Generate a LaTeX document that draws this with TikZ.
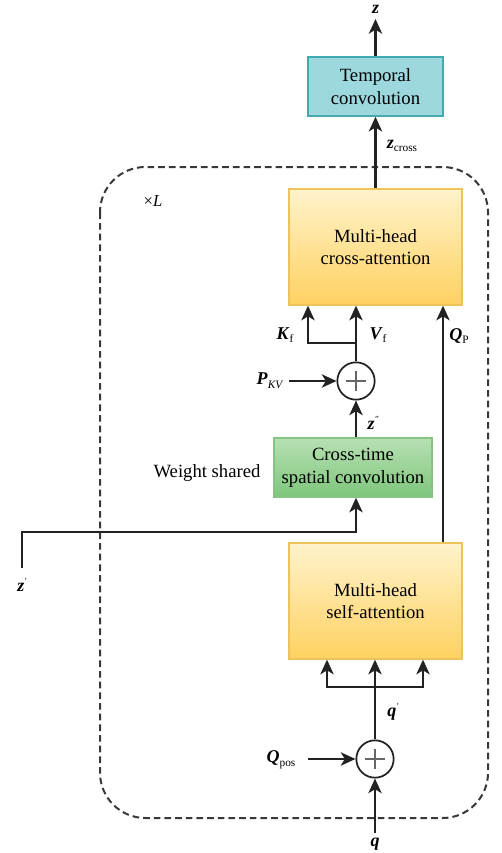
\documentclass[tikz,border=0pt]{standalone}
\usepackage{fontspec}
\setmainfont{Liberation Serif}
\usetikzlibrary{arrows.meta,calc}
\newcommand{\bi}[1]{\textbf{\textit{#1}}}
\newcommand{\sbs}[1]{\raisebox{-0.45ex}{\fontsize{8.5}{8.5}\selectfont #1}}
\definecolor{tealfill}{HTML}{9DD8DE}
\definecolor{tealdraw}{HTML}{45A9B1}
\definecolor{ytop}{HTML}{FFF3CC}
\definecolor{ybot}{HTML}{FFD160}
\definecolor{ydraw}{HTML}{EFC35C}
\definecolor{gtop}{HTML}{B8E0B3}
\definecolor{gbot}{HTML}{7EC67C}
\definecolor{gdraw}{HTML}{86C484}
\definecolor{lin}{HTML}{222222}
\begin{document}
\begin{tikzpicture}[x=0.75pt,y=-0.75pt,
  boxtext/.style={align=center,font=\fontsize{14}{17}\selectfont,inner sep=0pt},
  tbox/.style={boxtext,draw=tealdraw,line width=1.2pt,fill=tealfill,minimum width=101.25pt,minimum height=44.25pt},
  ybox/.style={boxtext,draw=ydraw,line width=1pt,top color=ytop,bottom color=ybot,minimum width=129.75pt,minimum height=87pt},
  gbox/.style={boxtext,draw=gdraw,line width=1pt,top color=gtop,bottom color=gbot,minimum width=118.5pt,minimum height=44.25pt},
  plusc/.style={circle,draw=lin,line width=1.3pt,fill=white,minimum size=28pt,inner sep=0pt},
  arr/.style={draw=lin,line width=1.6pt,-{Stealth[length=11pt,width=10pt,inset=3pt]}},
  lbl/.style={font=\fontsize{13.5}{15}\selectfont,inner sep=0pt},
  plain/.style={font=\fontsize{14}{17}\selectfont,inner sep=0pt}]
\useasboundingbox (0,0) rectangle (501,853);
% repeat frame
\draw[draw=lin!90,line width=1.5pt,dash pattern=on 5pt off 3pt,rounded corners=34pt] (100,167) rectangle (488,818);
\node[font=\fontsize{12.5}{14}\selectfont,inner sep=0pt] (xl) at (153,201) {\char"00D7\textit{L}};
% boxes
\node[tbox] (temp) at (375.5,86.5) {Temporal\\convolution};
\node[ybox] (cross) at (375.5,247) {Multi-head\\cross-attention};
\node[gbox] (green) at (353,467.5) {Cross-time\\spatial convolution};
\node[ybox] (self) at (375.5,601) {Multi-head\\self-attention};
\node[plusc] (p1) at (356,381) {};
\node[plusc] (p2) at (375,759) {};
\foreach \c in {p1,p2}{
  \draw[gray!80!black,line width=0.8pt] ($(\c)+(-10,0)$) -- ($(\c)+(10,0)$);
  \draw[gray!80!black,line width=0.8pt] ($(\c)+(0,-10)$) -- ($(\c)+(0,10)$);
}
% coordinates
\coordinate (zout) at (375.5,19);
\coordinate (kj) at (356,343);
\coordinate (kx) at (308,343);
\coordinate (pkvs) at (289,381);
\coordinate (zc) at (356,532);
\coordinate (zp) at (22,568);
\coordinate (qj) at (375,687);
\coordinate (qpl) at (327,687);
\coordinate (qpr) at (423,687);
\coordinate (qposs) at (308,759);
\coordinate (qin) at (375,833);
\coordinate (qa) at (443,0);
% labels
\node[lbl] (lz) at (375.5,9) {\bi{z}};
\node[lbl] (lzc) at (402,146) {\bi{z}\sbs{cross}};
\node[lbl] (lkf) at (285,335) {\bi{K}\sbs{f}};
\node[lbl] (lvf) at (378,335) {\bi{V}\sbs{f}};
\node[lbl] (lqp) at (459,336) {\bi{Q}\sbs{P}};
\node[lbl] (lpkv) at (270,381) {\bi{P}\sbs{\textit{KV}}};
\node[lbl] (lzpp) at (373,423) {\bi{z}\raisebox{0.9ex}{\fontsize{7}{7}\selectfont\textit{\char"2033}}};
\node[plain] (ws) at (207,473) {Weight shared};
\node[lbl] (lzp) at (22,585) {\bi{z}\raisebox{0.9ex}{\fontsize{7}{7}\selectfont\textit{\char"2032}}};
\node[lbl] (lqq) at (393,712) {\bi{q}\raisebox{0.9ex}{\fontsize{7}{7}\selectfont\textit{\char"2032}}};
\node[lbl] (lqpos) at (281,760) {\bi{Q}\sbs{pos}};
\node[lbl] (lq) at (375,844) {\bi{q}};
% connectors
\draw[arr] (temp.north) -- (zout);
\draw[arr] (cross.north) -- (temp.south);
\draw[arr] (p1.north) -- (p1.north |- cross.south);
\draw[arr] (kj) -- (kx) -- (kx |- cross.south);
\draw[arr] (qa |- self.north) -- (qa |- cross.south);
\draw[arr] (pkvs) -- (p1.west);
\draw[arr] (p1 |- green.north) -- (p1.south);
\draw[arr] (zp) |- (zc) -- (zc |- green.south);
\draw[arr] (p2.north) -- (p2 |- self.south);
\draw[arr] (qj) -- (qpl) -- (qpl |- self.south);
\draw[arr] (qj) -- (qpr) -- (qpr |- self.south);
\draw[arr] (qposs) -- (p2.west);
\draw[arr] (qin) -- (p2.south);
\end{tikzpicture}
\end{document}
